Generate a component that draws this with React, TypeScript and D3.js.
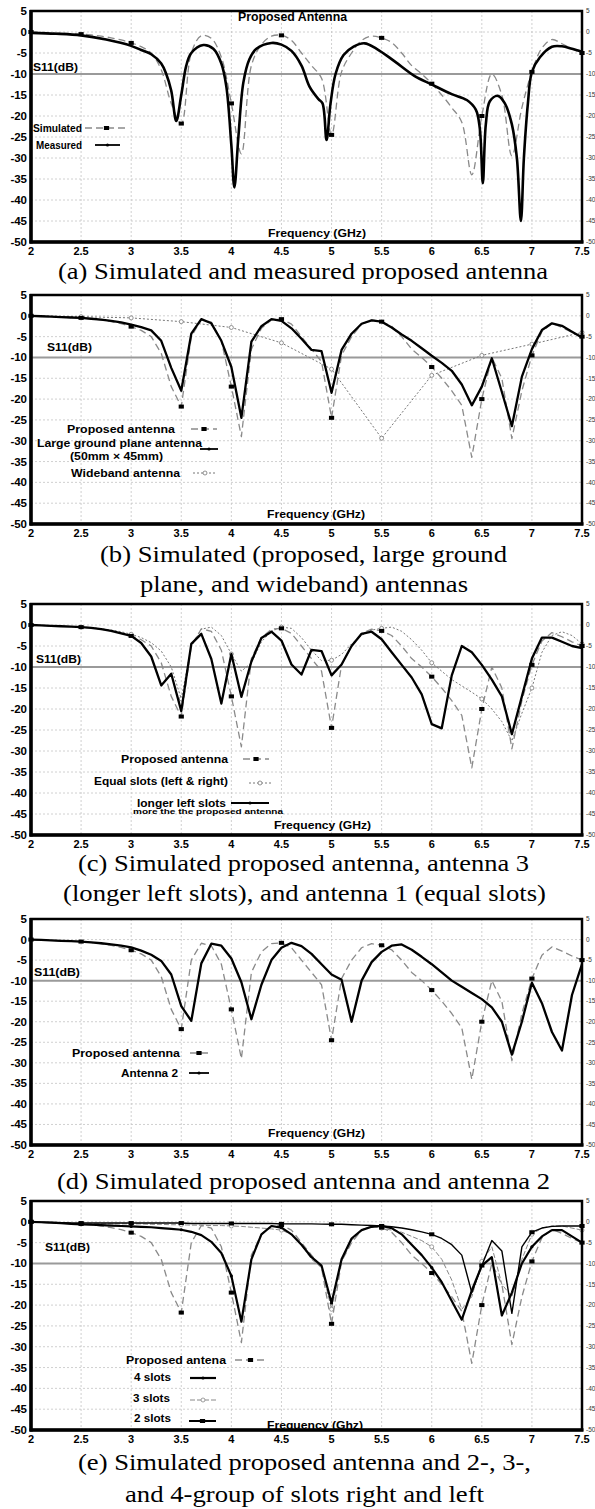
import React from 'react';
import * as d3 from 'd3';

// frequency grid (GHz) used by the simulated curves
const freq = [2.0, 2.1, 2.2, 2.3, 2.4, 2.5, 2.6, 2.7, 2.8, 2.9, 3.0, 3.1, 3.2, 3.3, 3.4, 3.5, 3.6, 3.7, 3.8, 3.9,
  4.0, 4.1, 4.2, 4.3, 4.4, 4.5, 4.6, 4.7, 4.8, 4.9, 5.0, 5.1, 5.2, 5.3, 5.4, 5.5, 5.6, 5.7, 5.8, 5.9,
  6.0, 6.1, 6.2, 6.3, 6.4, 6.5, 6.6, 6.7, 6.8, 6.9, 7.0, 7.1, 7.2, 7.3, 7.4, 7.5];
const freqHalf = [2, 2.5, 3, 3.5, 4, 4.5, 5, 5.5, 6, 6.5, 7, 7.5];
const freqTicks = [2, 2.5, 3, 3.5, 4, 4.5, 5, 5.5, 6, 6.5, 7, 7.5];
const dbTicks = [5, 0, -5, -10, -15, -20, -25, -30, -35, -40, -45, -50];

// proposed antenna (simulated) - same in every panel
const proposed = [0, -0.1, -0.2, -0.3, -0.4, -0.5, -0.7, -1.0, -1.4, -1.9, -2.6, -3.5, -5, -9, -17, -21.8, -5, -0.9, -1.5, -6,
  -17, -29, -8, -3, -1, -0.8, -2, -5, -8, -11, -24.5, -9.5, -5, -2, -1, -1.4, -2.5, -5, -8, -10,
  -12.3, -15, -18, -21.5, -34, -20, -10, -15, -29.5, -18, -9.5, -3.8, -1.8, -2.8, -4, -5];

// (a) measured
const measuredFreq = [2.0, 2.25, 2.5, 2.75, 3.0, 3.1, 3.2, 3.3, 3.35, 3.4, 3.45, 3.5, 3.55, 3.6, 3.72, 3.82, 3.9, 3.95, 4.0, 4.03,
  4.07, 4.12, 4.18, 4.25, 4.4, 4.5, 4.6, 4.7, 4.78, 4.87, 4.91, 4.95, 4.99, 5.04, 5.12, 5.22, 5.33, 5.45, 5.63, 5.83,
  6.0, 6.2, 6.35, 6.44, 6.48, 6.51, 6.54, 6.58, 6.66, 6.73, 6.8, 6.85, 6.89, 6.92, 6.96, 7.0, 7.08, 7.2, 7.3, 7.4, 7.5];
const measured = [-0.2, -0.4, -0.8, -1.8, -3.3, -4.3, -5.3, -7.5, -10, -14, -21.2, -15, -8, -5, -3.1, -4, -7.5, -13, -27, -37,
  -25, -12, -6.5, -4, -2.6, -3, -4.5, -8, -13, -16, -17, -25.7, -17, -10, -5.5, -3.5, -2.7, -4, -7, -10.5,
  -12.5, -14.8, -16.2, -18.5, -23, -36, -22, -16.5, -15.2, -17, -22, -30, -45, -30, -17, -9.5, -6, -3.5, -3.4, -4, -4.7];

// (b)
const largeGround = [0, -0.1, -0.2, -0.3, -0.4, -0.5, -0.7, -0.9, -1.2, -1.6, -2.1, -2.7, -3.5, -6, -12.5, -18, -4.3, -0.8, -1.8, -6,
  -12.3, -24.5, -6.2, -2.5, -0.8, -1.2, -3, -5.5, -8.2, -8.5, -18.5, -8.2, -4.3, -1.9, -1.1, -1.4, -2.8, -4.5, -6, -7.8,
  -9.6, -11.3, -13.2, -16.5, -21.5, -17, -10.2, -18.3, -26.5, -14.6, -8, -3.4, -1.8, -2.4, -3.8, -5.2];
const wideband = [0, -0.2, -0.5, -1.4, -2.8, -6.5, -12.8, -29.4, -14.3, -9.5, -6.8, -4];

// (c)
const longerLeft = [0, -0.1, -0.2, -0.3, -0.4, -0.5, -0.7, -1, -1.4, -2, -2.6, -4.3, -7.5, -14.4, -11.6, -20.5, -4.5, -2.1, -8.1, -18.7,
  -6.9, -17.1, -8.7, -3.1, -1.6, -3.7, -9.4, -11.8, -5.9, -6.2, -12, -9.4, -5, -2.1, -1.6, -3.4, -6.5, -9.5, -12.5, -16.5,
  -23.6, -24.6, -12, -5, -6.5, -9.5, -13, -17, -26, -17, -8, -3, -3, -4, -5, -5.5];
const equalSlots = [0, -0.1, -0.2, -0.3, -0.4, -0.5, -0.6, -0.9, -1.2, -1.6, -2.2, -3, -4.2, -6.2, -10, -17.6, -5, -1, -0.5, -2.5,
  -6.9, -11, -9, -4, -1.5, -0.5, -0.8, -3, -6, -8.5, -8.4, -7, -4.5, -2.5, -1.2, -0.8, -0.5, -1.5, -3.5, -6,
  -9, -11, -13, -14.5, -16, -17.6, -20, -23, -27.6, -21, -15, -6.5, -2.5, -1.6, -2.5, -4.5];

// (d)
const antenna2 = [0, -0.1, -0.2, -0.3, -0.4, -0.5, -0.7, -0.9, -1.2, -1.5, -1.9, -2.7, -3.7, -5.2, -8.5, -16.2, -19.8, -5.8, -1, -1.5,
  -4.6, -10.4, -19.4, -11, -5, -2, -0.8, -1.6, -3.5, -6, -8.5, -9.8, -20, -10, -5.5, -3, -1.5, -1.2, -2.5, -4.2,
  -6, -8, -10, -11.5, -13, -14.5, -16.5, -20, -28, -20, -10.5, -15.5, -22.5, -27, -13.5, -6];

// (e)
const slots4 = [0, -0.1, -0.2, -0.3, -0.5, -0.6, -0.7, -0.8, -0.9, -1, -1.1, -1.2, -1.3, -1.5, -1.7, -1.9, -2.4, -3.2, -4.8, -7.5,
  -13, -24, -9, -3, -1, -1.4, -3, -5.5, -8.5, -10.5, -19.5, -9, -4, -2, -1.2, -1, -1.5, -3, -5.5, -8,
  -11, -14.5, -19, -23.5, -16.5, -10.5, -8.5, -22.5, -17, -10, -6, -3.5, -2, -2, -3.5, -5];
const slots3 = [0, -0.1, -0.2, -0.3, -0.4, -0.5, -0.5, -0.5, -0.5, -0.5, -0.5, -0.5, -0.6, -0.6, -0.7, -0.7, -0.8, -0.8, -0.9, -0.9,
  -1, -1.1, -1.3, -1.5, -1.7, -2, -3, -5.5, -9, -11, -21, -9.5, -4.5, -2, -1, -1.5, -2, -2.5, -3.5, -4.5,
  -6, -9, -14, -21, -18, -9.5, -6, -15, -18, -9, -3, -1.5, -1, -1, -1.5, -2];
const slots2 = [0, -0.1, -0.15, -0.2, -0.25, -0.3, -0.3, -0.3, -0.3, -0.3, -0.3, -0.3, -0.3, -0.3, -0.3, -0.3, -0.4, -0.4, -0.4, -0.4,
  -0.4, -0.4, -0.4, -0.4, -0.4, -0.5, -0.5, -0.5, -0.5, -0.55, -0.6, -0.6, -0.7, -0.8, -0.9, -1, -1.2, -1.5, -1.9, -2.4,
  -3, -4, -5.5, -8, -17, -10.5, -4.5, -7, -22, -6, -2.5, -1.5, -1.1, -1, -1, -1];

const SANS = "Liberation Sans, Arial, sans-serif";
const SERIF = "Times New Roman, Liberation Serif, Tinos, Times, serif";
const X0 = 31;
const X1 = 582;

type Style = { color: string; width: number; dash?: string; marker?: 'square' | 'circle' | 'dot'; every?: number; curve?: boolean };

const sProposed: Style = { color: '#8a8a8a', width: 1.3, dash: '7,4', marker: 'square', every: 5 };
const sProposedA: Style = { ...sProposed, curve: true };
const sMeasured: Style = { color: '#000', width: 2.6, curve: true };
const sSolid: Style = { color: '#000', width: 2.3 };
const sDotted: Style = { color: '#777', width: 1, dash: '2,2', marker: 'circle', every: 5 };
const sWide: Style = { color: '#777', width: 1, dash: '2,2', marker: 'circle', every: 1 };
const s4: Style = { color: '#000', width: 2.2, marker: 'dot', every: 5 };
const s3: Style = { color: '#888', width: 1, dash: '5,2', marker: 'circle', every: 5 };
const s2: Style = { color: '#000', width: 1.4, marker: 'square', every: 5 };

type Series = { xs: number[]; ys: number[]; style: Style };
type Leg = { label: string; x1: number; x2: number; y: number; sx1?: number; sx2?: number; sy?: number; style?: Style; size?: number };
type Txt = { text: string; x1: number; x2: number; y: number };
type PanelCfg = {
  top: number; bottom: number; series: Series[]; legend: Leg[];
  freqLabel: Txt; s11: Txt; title?: Txt; captions: Txt[];
};

const Marker = ({ kind, cx, cy, color }: { kind?: string; cx: number; cy: number; color: string }) => {
  if (kind === 'square') return <rect x={cx - 2.6} y={cy - 2} width={5.2} height={4} fill="#000" />;
  if (kind === 'circle') return <circle cx={cx} cy={cy} r={2} fill="#fff" stroke={color} strokeWidth={0.8} />;
  if (kind === 'dot') return <circle cx={cx} cy={cy} r={1.6} fill="#000" />;
  return null;
};

const FitText = ({ t, size = 11, weight = 'bold', family = SANS }: { t: Txt; size?: number; weight?: string; family?: string }) => (
  <text x={t.x1} y={t.y} dy="0.35em" fontSize={size} fontWeight={weight} fontFamily={family}
    textLength={t.x2 - t.x1} lengthAdjust="spacingAndGlyphs" fill="#000">{t.text}</text>
);

const Panel = ({ cfg }: { cfg: PanelCfg }) => {
  const x = d3.scaleLinear().domain([2, 7.5]).range([X0, X1]);
  const y = d3.scaleLinear().domain([5, -50]).range([cfg.top, cfg.bottom]);
  const mk = (st: Style) => {
    const g = d3.line<[number, number]>().x(d => x(d[0])).y(d => y(d[1]));
    if (st.curve) g.curve(d3.curveCatmullRom.alpha(0.5));
    return g;
  };
  return (
    <g>
      {freqTicks.slice(1, -1).map(f => (
        <line key={'v' + f} x1={x(f)} x2={x(f)} y1={cfg.top} y2={cfg.bottom} stroke="#c4c4c4" strokeWidth={0.8} strokeDasharray="2,2" />
      ))}
      {dbTicks.slice(1, -1).map(v => (
        <line key={'h' + v} x1={X0} x2={X1} y1={y(v)} y2={y(v)} stroke="#c4c4c4" strokeWidth={0.8} strokeDasharray="2,2" />
      ))}
      <line x1={X0} x2={X1} y1={y(-10)} y2={y(-10)} stroke="#9a9a9a" strokeWidth={2} />
      {cfg.series.map((s, i) => {
        const pts = s.xs.map((f, j) => [f, s.ys[j]] as [number, number]);
        return (
          <g key={i}>
            <path d={mk(s.style)(pts) || ''} fill="none" stroke={s.style.color} strokeWidth={s.style.width}
              strokeDasharray={s.style.dash} strokeLinejoin="round" />
            {s.style.marker && pts.filter((_, j) => j % (s.style.every || 1) === 0).map((p, j) => (
              <Marker key={j} kind={s.style.marker} cx={x(p[0])} cy={y(p[1])} color={s.style.color} />
            ))}
          </g>
        );
      })}
      <rect x={X0} y={cfg.top} width={X1 - X0} height={cfg.bottom - cfg.top} fill="none" stroke="#000" strokeWidth={2.5} />
      <line x1={X0} x2={X0} y1={cfg.top - 1} y2={cfg.bottom + 1.5} stroke="#000" strokeWidth={3.5} />
      <line x1={X0 - 1.5} x2={X1 + 1.5} y1={cfg.bottom} y2={cfg.bottom} stroke="#000" strokeWidth={3.5} />
      {dbTicks.map(v => (
        <text key={'l' + v} x={X0 - 4} y={y(v)} dy="0.35em" textAnchor="end" fontSize={11.5} fontWeight="bold" fontFamily={SANS}>{v}</text>
      ))}
      {dbTicks.map(v => (
        <text key={'r' + v} x={X1 + 4} y={y(v)} dy="0.35em" fontSize={6.5} fontFamily={SANS} fill="#333">{v}</text>
      ))}
      {freqTicks.map(f => (
        <text key={'b' + f} x={x(f)} y={cfg.bottom + 9} dy="0.35em" textAnchor="middle" fontSize={11} fontWeight="bold" fontFamily={SANS}>{String(f)}</text>
      ))}
      <FitText t={cfg.s11} size={11} />
      <FitText t={cfg.freqLabel} size={11} />
      {cfg.title && <FitText t={cfg.title} size={12} />}
      {cfg.legend.map((l, i) => (
        <g key={'g' + i}>
          <FitText t={{ text: l.label, x1: l.x1, x2: l.x2, y: l.y }} size={l.size || 11} />
          {l.style && l.sx1 !== undefined && l.sx2 !== undefined && (
            <g>
              <line x1={l.sx1} x2={l.sx2} y1={l.sy ?? l.y} y2={l.sy ?? l.y} stroke={l.style.color}
                strokeWidth={l.style.width} strokeDasharray={l.style.dash} />
              <Marker kind={l.style.marker} cx={(l.sx1 + l.sx2) / 2} cy={l.sy ?? l.y} color={l.style.color} />
            </g>
          )}
        </g>
      ))}
      {cfg.captions.map((c, i) => (
        <text key={'c' + i} x={c.x1} y={c.y + 7} fontSize={24} fontFamily={SERIF}
          textLength={c.x2 - c.x1} lengthAdjust="spacingAndGlyphs">{c.text}</text>
      ))}
    </g>
  );
};

const panels: PanelCfg[] = [
  {
    top: 11, bottom: 242,
    series: [
      { xs: freq, ys: proposed, style: sProposedA },
      { xs: measuredFreq, ys: measured, style: sMeasured },
    ],
    legend: [
      { label: 'Simulated', x1: 33, x2: 82, y: 128, sx1: 85, sx2: 128, style: sProposed },
      { label: 'Measured', x1: 36, x2: 82, y: 145, sx1: 95, sx2: 120, style: { color: '#000', width: 1.8, marker: 'dot' } },
    ],
    title: { text: 'Proposed Antenna', x1: 238, x2: 347, y: 17 },
    s11: { text: 'S11(dB)', x1: 33, x2: 78, y: 67 },
    freqLabel: { text: 'Frequency (GHz)', x1: 268, x2: 366, y: 233 },
    captions: [{ text: '(a) Simulated and measured proposed antenna', x1: 58, x2: 548, y: 272 }],
  },
  {
    top: 295, bottom: 524,
    series: [
      { xs: freqHalf, ys: wideband, style: sWide },
      { xs: freq, ys: proposed, style: sProposed },
      { xs: freq, ys: largeGround, style: sSolid },
    ],
    legend: [
      { label: 'Proposed antenna', x1: 67, x2: 175, y: 429, sx1: 191, sx2: 217, style: sProposed },
      { label: 'Large ground plane antenna', x1: 37, x2: 202, y: 443, sx1: 200, sx2: 218, sy: 449, style: { color: '#000', width: 1.8, marker: 'dot' } },
      { label: '(50mm × 45mm)', x1: 70, x2: 163, y: 456 },
      { label: 'Wideband antenna', x1: 71, x2: 180, y: 473, sx1: 193, sx2: 217, style: sDotted },
    ],
    s11: { text: 'S11(dB)', x1: 47, x2: 92, y: 347 },
    freqLabel: { text: 'Frequency (GHz)', x1: 267, x2: 365, y: 514 },
    captions: [
      { text: '(b) Simulated (proposed, large ground', x1: 100, x2: 507, y: 555 },
      { text: 'plane, and wideband) antennas', x1: 140, x2: 468, y: 585 },
    ],
  },
  {
    top: 604, bottom: 835,
    series: [
      { xs: freq, ys: equalSlots, style: sDotted },
      { xs: freq, ys: proposed, style: sProposed },
      { xs: freq, ys: longerLeft, style: sSolid },
    ],
    legend: [
      { label: 'Proposed antenna', x1: 121, x2: 228, y: 759, sx1: 243, sx2: 269, style: sProposed },
      { label: 'Equal slots (left & right)', x1: 94, x2: 228, y: 781, sx1: 249, sx2: 271, sy: 783, style: sDotted },
      { label: 'longer left slots', x1: 137, x2: 226, y: 803, sx1: 231, sx2: 269, style: { color: '#000', width: 1.8, marker: 'dot' } },
      { label: 'more the the proposed antenna', x1: 133, x2: 283, y: 812, size: 7 },
    ],
    s11: { text: 'S11(dB)', x1: 36, x2: 81, y: 659 },
    freqLabel: { text: 'Frequency (GHz)', x1: 274, x2: 371, y: 825 },
    captions: [
      { text: '(c) Simulated proposed antenna, antenna 3', x1: 78, x2: 529, y: 864 },
      { text: '(longer left slots), and antenna 1 (equal slots)', x1: 63, x2: 546, y: 894 },
    ],
  },
  {
    top: 919, bottom: 1145,
    series: [
      { xs: freq, ys: proposed, style: sProposed },
      { xs: freq, ys: antenna2, style: sSolid },
    ],
    legend: [
      { label: 'Proposed antenna', x1: 72, x2: 180, y: 1053, sx1: 190, sx2: 208, style: sProposed },
      { label: 'Antenna 2', x1: 121, x2: 178, y: 1073, sx1: 189, sx2: 209, style: { color: '#000', width: 1.8, marker: 'dot' } },
    ],
    s11: { text: 'S11(dB)', x1: 34, x2: 80, y: 972 },
    freqLabel: { text: 'Frequency (GHz)', x1: 268, x2: 365, y: 1133 },
    captions: [{ text: '(d) Simulated proposed antenna and antenna 2', x1: 57, x2: 550, y: 1182 }],
  },
  {
    top: 1201, bottom: 1430,
    series: [
      { xs: freq, ys: slots3, style: s3 },
      { xs: freq, ys: proposed, style: sProposed },
      { xs: freq, ys: slots2, style: s2 },
      { xs: freq, ys: slots4, style: s4 },
    ],
    legend: [
      { label: 'Proposed antena', x1: 126, x2: 226, y: 1360, sx1: 235, sx2: 266, style: sProposed },
      { label: '4 slots', x1: 134, x2: 171, y: 1377, sx1: 190, sx2: 216, sy: 1378, style: s4 },
      { label: '3 slots', x1: 133, x2: 170, y: 1398, sx1: 190, sx2: 216, sy: 1400, style: s3 },
      { label: '2 slots', x1: 134, x2: 171, y: 1418, sx1: 189, sx2: 216, sy: 1421, style: { ...s2, width: 2 } },
    ],
    s11: { text: 'S11(dB)', x1: 45, x2: 90, y: 1247 },
    freqLabel: { text: 'Frequency (Ghz)', x1: 267, x2: 363, y: 1425 },
    captions: [
      { text: '(e) Simulated proposed antenna and 2-, 3-,', x1: 78, x2: 531, y: 1463 },
      { text: 'and 4-group of slots right and left', x1: 125, x2: 484, y: 1495 },
    ],
  },
];

export default function App() {
  return (
    <svg width={595} height={1509} style={{ position: 'absolute', left: 0, top: 0, background: '#fff' }}>
      {panels.map((p, i) => <Panel key={i} cfg={p} />)}
    </svg>
  );
}
